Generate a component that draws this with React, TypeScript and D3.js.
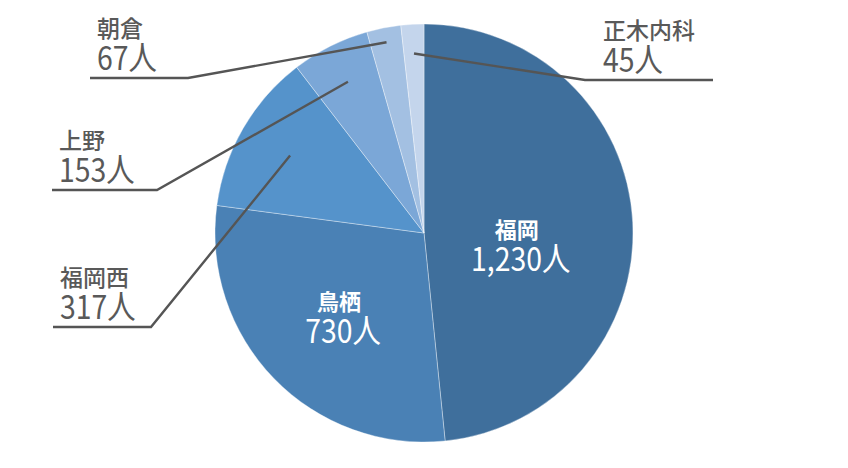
import { useEffect } from "react";
import * as d3 from "d3";

const names = ["福岡", "鳥栖", "福岡西", "上野", "朝倉", "正木内科"];
const counts = [1230, 730, 317, 153, 67, 45];
const colors = ["#3f6f9c", "#4a81b5", "#5593cb", "#7ba7d7", "#a3c0e2", "#c4d5ec"];

// slices labelled inside the pie, with a small hand nudge like in the original
const insideLabels: Record<string, [number, number]> = {
  福岡: [-20, 17],
  鳥栖: [-4, 4],
};

// callout layout for the small slices: leader start (fraction of radius), elbow, far end
const callouts: Record<string, { start: number; elbow: [number, number]; end: number }> = {
  福岡西: { start: 0.74, elbow: [151, 327], end: 53 },
  上野: { start: 0.81, elbow: [157, 190], end: 52 },
  朝倉: { start: 0.93, elbow: [188, 78], end: 90 },
  正木内科: { start: 0.86, elbow: [585, 80], end: 713 },
};

const width = 848;
const height = 468;
const cx = 424;
const cy = 233;
const radius = 209;
const font = "'Noto Sans CJK JP', 'Noto Sans', sans-serif";

type Slice = { name: string; value: number; color: string };
const slices: Slice[] = names.map((name, i) => ({ name, value: counts[i], color: colors[i] }));

export default function App() {
  useEffect(() => {
    document.body.style.margin = "0";
  }, []);

  const pie = d3
    .pie<Slice>()
    .value((d) => d.value)
    .sort(null)
    .startAngle(0)
    .endAngle(2 * Math.PI);
  const arcs = pie(slices);

  const arc = d3.arc<d3.PieArcDatum<Slice>>().innerRadius(0).outerRadius(radius);
  const labelArc = d3.arc<d3.PieArcDatum<Slice>>().innerRadius(0).outerRadius(radius * 1.08);
  const pointAt = (d: d3.PieArcDatum<Slice>, r: number) =>
    d3.arc<d3.PieArcDatum<Slice>>().innerRadius(r).outerRadius(r).centroid(d);

  const fmt = d3.format(",");

  return (
    <svg width={width} height={height} style={{ display: "block", background: "#fff" }}>
      <g transform={`translate(${cx},${cy})`}>
        {arcs.map((d) => (
          <path
            key={d.data.name}
            d={arc(d) as string}
            fill={d.data.color}
            stroke="#ffffff"
            strokeOpacity={0.45}
            strokeWidth={0.8}
          />
        ))}
        {arcs
          .filter((d) => insideLabels[d.data.name])
          .map((d) => {
            const [x, y] = labelArc.centroid(d);
            const [nx, ny] = insideLabels[d.data.name];
            return (
              <g key={d.data.name} transform={`translate(${x + nx},${y + ny})`} fill="#fff" fontFamily={font}>
                <text textAnchor="middle" y={-6} fontSize={22} fontWeight={700}>
                  {d.data.name}
                </text>
                <text textAnchor="middle" transform="translate(4,27) scale(0.86,1)" fontSize={33}>
                  {fmt(d.data.value)}人
                </text>
              </g>
            );
          })}
      </g>
      {arcs
        .filter((d) => callouts[d.data.name])
        .map((d) => {
          const c = callouts[d.data.name];
          const [sx, sy] = pointAt(d, radius * c.start);
          const [ex, ey] = c.elbow;
          const right = c.end > ex;
          const textX = right ? ex + 18 : c.end + 7;
          return (
            <g key={d.data.name}>
              <polyline
                points={`${cx + sx},${cy + sy} ${ex},${ey} ${c.end},${ey}`}
                fill="none"
                stroke="#555555"
                strokeWidth={2.4}
              />
              <text x={textX} y={ey - 41} fontFamily={font} fontSize={23} fontWeight={500} fill="#595959">
                {d.data.name}
              </text>
              <text
                transform={`translate(${textX},${ey - 8}) scale(0.86,1)`}
                fontFamily={font}
                fontSize={33}
                fill="#595959"
              >
                {fmt(d.data.value)}人
              </text>
            </g>
          );
        })}
    </svg>
  );
}
